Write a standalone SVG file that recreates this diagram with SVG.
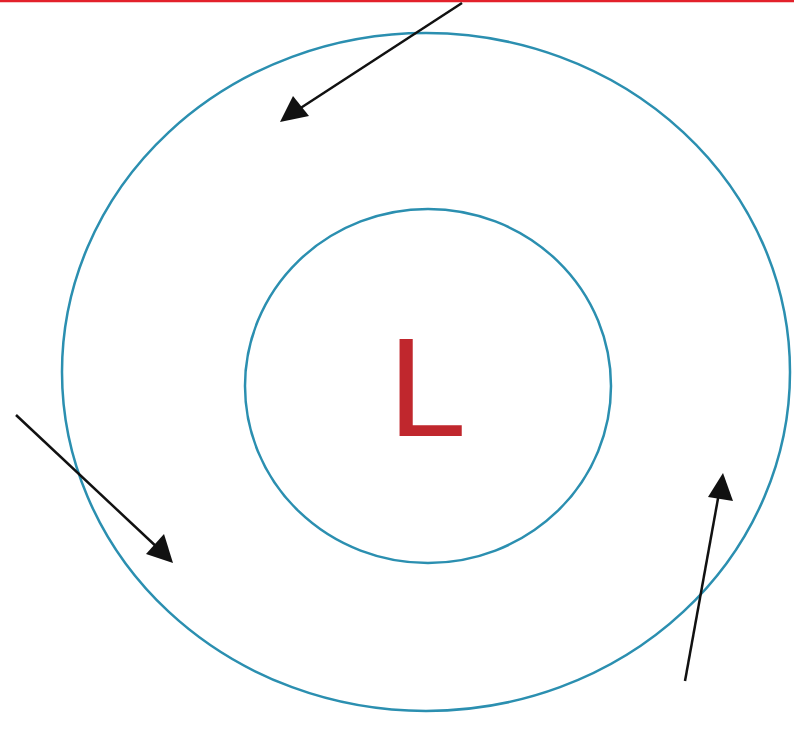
<svg xmlns="http://www.w3.org/2000/svg" width="794" height="743" viewBox="0 0 794 743">
<style>
.ring{fill:none;stroke:#2b8fb0;stroke-width:2.5}
.arr{stroke:#111;stroke-width:2.5;fill:none}
.head{fill:#111}
</style>
<rect width="794" height="743" fill="#fff"/>
<line x1="0" y1="1" x2="794" y2="1" stroke="#e3212b" stroke-width="2.5"/>
<g id="outer"><ellipse class="ring" cx="426" cy="372" rx="364" ry="339"/></g>
<g id="inner"><ellipse class="ring" cx="428" cy="386" rx="183" ry="177"/>
<text x="388" y="436" font-family="Liberation Sans, Arial, sans-serif" font-size="141" fill="#c0272d">L</text></g>
<g id="connectors">
<line class="arr" x1="462" y1="3" x2="296" y2="111"/>
<polygon class="head" points="280,122 293,96 309,116"/>
<line class="arr" x1="16" y1="415" x2="160" y2="550"/>
<polygon class="head" points="173,563 146,554 164,534"/>
<line class="arr" x1="685" y1="681" x2="719" y2="493"/>
<polygon class="head" points="723,473 733,501 708,497"/>
</g>
</svg>
